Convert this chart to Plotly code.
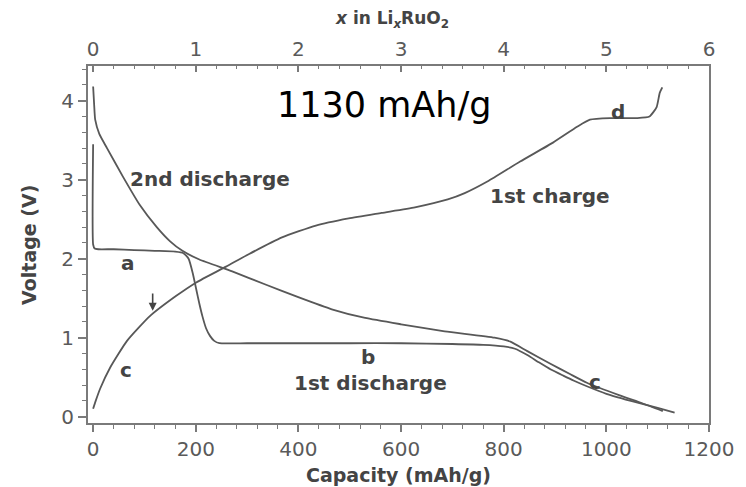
import plotly.graph_objects as go

# ---- data ----
first_discharge_cap = [0, 0, 3, 10, 40, 80, 120, 160, 176, 186, 194, 201, 207, 213, 220, 228, 236, 246, 300, 400, 500, 600, 700, 760, 800, 822, 846, 868, 891, 916, 937, 962, 1000, 1059, 1100, 1133]
first_discharge_v = [3.45, 2.18, 2.13, 2.12, 2.12, 2.11, 2.10, 2.09, 2.07, 2.00, 1.82, 1.61, 1.43, 1.27, 1.12, 1.02, 0.96, 0.93, 0.93, 0.93, 0.93, 0.93, 0.92, 0.91, 0.89, 0.86, 0.78, 0.69, 0.60, 0.52, 0.455, 0.385, 0.29, 0.18, 0.11, 0.05]

first_charge_cap = [0, 5, 14, 33, 66, 110, 162, 201, 259, 304, 368, 434, 498, 562, 627, 691, 724, 769, 832, 896, 943, 968, 1007, 1059, 1084, 1098, 1104, 1109]
first_charge_v = [0.10, 0.20, 0.36, 0.62, 0.96, 1.27, 1.53, 1.70, 1.90, 2.06, 2.27, 2.42, 2.51, 2.58, 2.65, 2.75, 2.83, 2.98, 3.23, 3.47, 3.67, 3.76, 3.78, 3.78, 3.80, 3.92, 4.10, 4.17]

second_discharge_cap = [0, 2, 4, 12, 27, 58, 91, 124, 150, 174, 207, 271, 337, 401, 465, 530, 600, 685, 782, 813, 846, 891, 929, 962, 1026, 1070, 1110]
second_discharge_v = [4.18, 3.95, 3.76, 3.58, 3.40, 3.04, 2.68, 2.40, 2.22, 2.10, 1.99, 1.84, 1.67, 1.51, 1.36, 1.25, 1.17, 1.08, 1.00, 0.95, 0.83, 0.67, 0.54, 0.43, 0.27, 0.17, 0.07]

x_ticks = [0, 200, 400, 600, 800, 1000, 1200]
y_ticks = [0, 1, 2, 3, 4]
top_ticks = [0, 1, 2, 3, 4, 5, 6]

# labels: (text, capacity, voltage)
curve_labels = [
    ("2nd discharge", 228, 3.01),
    ("1st charge", 890, 2.80),
    ("a", 68, 1.95),
    ("b", 536, 0.76),
    ("1st discharge", 540, 0.43),
    ("c", 64, 0.59),
    ("c", 978, 0.44),
    ("d", 1022, 3.86),
]

LINE = "#585858"
TXT = "#444444"
AX = "#7a7a7a"

fig = go.Figure()
for cap, v in [(first_discharge_cap, first_discharge_v),
               (first_charge_cap, first_charge_v),
               (second_discharge_cap, second_discharge_v)]:
    fig.add_trace(go.Scatter(x=cap, y=v, mode="lines",
                             line=dict(color=LINE, width=1.8, shape="spline", smoothing=0.5),
                             showlegend=False, hoverinfo="skip"))

# dummy trace for top axis
fig.add_trace(go.Scatter(x=[0, 6], y=[None, None], xaxis="x2", yaxis="y",
                         mode="lines", showlegend=False, hoverinfo="skip"))

tickfont = dict(family="DejaVu Sans", size=20, color="#5a5a5a")

fig.update_layout(
    width=746, height=487,
    margin=dict(l=88, r=33, t=66, b=64),
    paper_bgcolor="white", plot_bgcolor="white",
    xaxis=dict(range=[-10, 1200], tickvals=x_ticks, ticks="outside", ticklen=7,
               tickwidth=1.5, tickcolor=AX, showline=True, linecolor=AX, linewidth=2,
               mirror=False, showgrid=False, zeroline=False, tickfont=tickfont,
               minor=dict(dtick=40, tick0=0, ticks="outside", ticklen=4, tickcolor=AX, tickwidth=1.2)),
    xaxis2=dict(range=[-0.05, 6], overlaying="x", side="top", tickvals=top_ticks,
                ticks="inside", ticklen=6, tickwidth=1.5, tickcolor=AX,
                showline=True, linecolor=AX, linewidth=2, showgrid=False, zeroline=False,
                tickfont=tickfont, ticklabelstandoff=0,
                minor=dict(dtick=0.2, tick0=0, ticks="inside", ticklen=3, tickcolor=AX, tickwidth=1.2)),
    yaxis=dict(range=[-0.08, 4.44], tickvals=y_ticks, ticks="outside", ticklen=8,
               tickwidth=1.5, tickcolor=AX, showline=True, linecolor=AX, linewidth=2,
               mirror=True, showgrid=False, zeroline=False, tickfont=tickfont,
               minor=dict(dtick=0.2, tick0=0, ticks="outside", ticklen=4, tickcolor=AX, tickwidth=1.2)),
)

for text, cx, cy in curve_labels:
    fig.add_annotation(x=cx, y=cy, xref="x", yref="y", text=f"<b>{text}</b>", showarrow=False,
                       font=dict(family="DejaVu Sans", size=20, color=TXT))

# small down arrow on the charge curve
fig.add_annotation(x=116, y=1.34, ax=116, ay=1.58, xref="x", yref="y", axref="x", ayref="y",
                   text="", showarrow=True, arrowhead=2, arrowsize=1, arrowwidth=1.6, arrowcolor=TXT)

# big capacity note
fig.add_annotation(x=567, y=3.95, xref="x", yref="y", text="1130 mAh/g", showarrow=False,
                   font=dict(family="DejaVu Sans", size=35, color="black"))

# axis titles
fig.add_annotation(x=0.5, y=-0.146, xref="paper", yref="paper", text="<b>Capacity (mAh/g)</b>",
                   showarrow=False, yanchor="middle",
                   font=dict(family="DejaVu Sans", size=19, color=TXT))
fig.add_annotation(x=-0.096, y=0.5, xref="paper", yref="paper", text="<b>Voltage (V)</b>",
                   showarrow=False, textangle=-90, xanchor="center",
                   font=dict(family="DejaVu Sans", size=19, color=TXT))
fig.add_annotation(x=0.49, y=1.13, xref="paper", yref="paper",
                   text="<b><i>x</i> in Li<sub><i>x</i></sub>RuO<sub>2</sub></b>",
                   showarrow=False, yanchor="middle",
                   font=dict(family="DejaVu Sans", size=17, color=TXT))

fig.write_html("out.html")
